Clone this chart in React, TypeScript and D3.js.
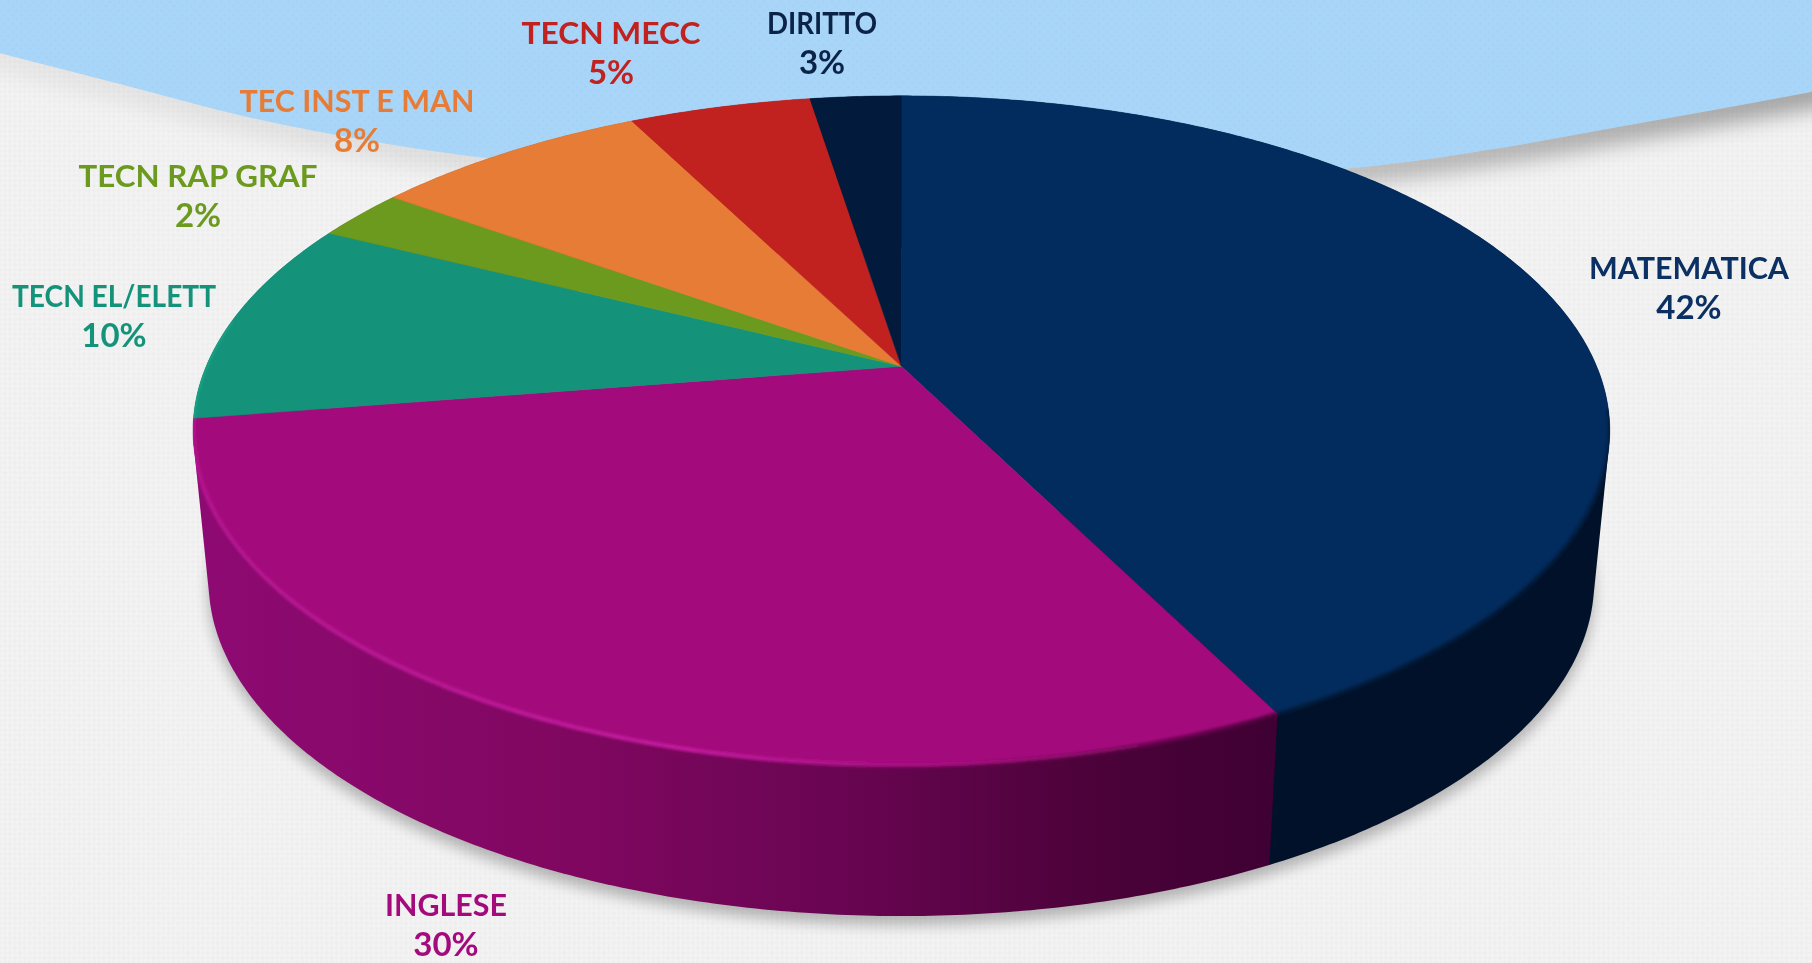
import React, { useMemo } from "react";
import * as d3 from "d3";

// ---- data
const subjects = ["MATEMATICA", "INGLESE", "TECN EL/ELETT", "TECN RAP GRAF", "TEC INST E MAN", "TECN MECC", "DIRITTO"];
const shares = [42.6, 29.9, 9.9, 2.5, 7.6, 5.0, 2.5];
const shareLabels = ["42%", "30%", "10%", "2%", "8%", "5%", "3%"];

// ---- styles and layout, kept apart from the data
const topColors = ["#032c5e", "#a30b7c", "#14937a", "#6c9a1f", "#e67c36", "#c1221f", "#021a3b"];
const labelColors = ["#0b3063", "#a30b7c", "#14937a", "#6c9a1f", "#e67c36", "#c1221f", "#0a2347"];
const sideColors = ["#001129", "url(#sideInglese)", "#0d6a58", "#4c6e16", "#a85a26", "#8a1816", "#010f22"];
const labelX = [1689, 446, 114, 198, 357, 611, 822];
const labelY = [269, 906, 297, 177, 102, 34, 24];
const labelW = [200, 122, 204, 239, 235, 179, 110];

const W = 1812;
const H = 963;
const cx = 901.4;
const apexY = 366.3;
const A = 695.2;
const B = 322.3;
const K = 0.1917;
const depthScale = 0.978;
const depth = 151;

// perspective view of a point on the pie's rim, theta clockwise from 12 o'clock
const rim = (t: number): [number, number] => {
  const u = Math.sin(t);
  const v = -Math.cos(t);
  const d = 1 - K * v;
  return [cx + (A * u) / d, apexY + (B * v) / d];
};
const base = (t: number): [number, number] => {
  const [x, y] = rim(t);
  return [cx + depthScale * (x - cx), y + depth];
};
const samples = (a: number, b: number) => {
  const n = Math.max(2, Math.ceil((b - a) / 0.01));
  return d3.range(n + 1).map((i) => a + ((b - a) * i) / n);
};

const line = d3.line<[number, number]>();
const waveEdge: [number, number][] = [
  [-20, 48], [120, 84], [243, 116], [370, 141], [485, 158], [700, 178], [900, 186],
  [1130, 182], [1364, 167], [1500, 148], [1618, 127], [1730, 107], [1832, 88],
];
const waveLine = d3.line<[number, number]>().curve(d3.curveCatmullRom);

export default function App() {
  const arcs = useMemo(() => d3.pie<number>().sort(null)(shares), []);
  const wave = waveLine(waveEdge) as string;
  const fullBase = line(samples(0, Math.PI * 2).map(base)) + "Z";
  const fullRim = line(samples(0, Math.PI * 2).map(rim)) + "Z";
  const sides = arcs
    .map((a, i) => {
      const ts = samples(a.startAngle, a.endAngle);
      const hull = d3.polygonHull([...ts.map(rim), ...ts.map(base)]) as [number, number][];
      return { i, d: line(hull) + "Z", front: rim((a.startAngle + a.endAngle) / 2)[1] };
    })
    .sort((p, q) => d3.ascending(p.front, q.front));

  return (
    <svg
      width={W}
      height={H}
      viewBox={`0 0 ${W} ${H}`}
      style={{ position: "fixed", left: 0, top: 0, display: "block" }}
    >
      <defs>
        <pattern id="weave" width="7" height="7" patternUnits="userSpaceOnUse" patternTransform="rotate(45)">
          <rect width="7" height="7" fill="#f3f3f3" />
          <rect width="3.5" height="3.5" fill="#eeeeee" />
          <rect x="3.5" y="3.5" width="3.5" height="3.5" fill="#efefef" />
        </pattern>
        <pattern id="weaveBlue" width="6" height="6" patternUnits="userSpaceOnUse" patternTransform="rotate(45)">
          <rect width="6" height="6" fill="#a9d6f8" />
          <rect width="3" height="3" fill="#a5d3f6" />
        </pattern>
        <linearGradient id="sideInglese" gradientUnits="userSpaceOnUse" x1="195" x2="1272" y1="0" y2="0">
          <stop offset="0" stopColor="#8e0a73" />
          <stop offset="0.35" stopColor="#800760" />
          <stop offset="0.6" stopColor="#690552" />
          <stop offset="0.85" stopColor="#4a0238" />
          <stop offset="1" stopColor="#3f0033" />
        </linearGradient>
        <linearGradient id="rimInglese" gradientUnits="userSpaceOnUse" x1="195" x2="1278" y1="0" y2="0">
          <stop offset="0" stopColor="#b5128f" />
          <stop offset="0.45" stopColor="#c61fa2" />
          <stop offset="0.7" stopColor="#a30b7c" />
          <stop offset="1" stopColor="#4c033a" />
        </linearGradient>
        <linearGradient id="waveShade" gradientUnits="userSpaceOnUse" x1="0" x2={W} y1="0" y2="0">
          <stop offset="0" stopColor="#000" stopOpacity="0.05" />
          <stop offset="0.5" stopColor="#000" stopOpacity="0.12" />
          <stop offset="1" stopColor="#000" stopOpacity="0.32" />
        </linearGradient>
        <filter id="blurWave" x="-5%" y="-50%" width="110%" height="200%">
          <feGaussianBlur stdDeviation="10" />
        </filter>
        <filter id="blurShadow" x="-5%" y="-5%" width="110%" height="110%">
          <feGaussianBlur stdDeviation="7" />
        </filter>
        <filter id="blurRim" x="-5%" y="-5%" width="110%" height="110%">
          <feGaussianBlur stdDeviation="1.6" />
        </filter>
        <clipPath id="belowWave">
          <path d={`${wave}L${W + 20},${H}L-20,${H}Z`} />
        </clipPath>
        <clipPath id="solid">
          <path d={fullRim} />
          {sides.map((s) => (
            <path key={s.i} d={s.d} />
          ))}
        </clipPath>
      </defs>

      <rect width={W} height={H} fill="url(#weave)" />
      <path d={`${wave}L${W + 20},-20L-20,-20Z`} fill="url(#weaveBlue)" />
      <g clipPath="url(#belowWave)">
        <path d={wave} fill="none" stroke="url(#waveShade)" strokeWidth={34} filter="url(#blurWave)" />
      </g>

      <path d={fullBase} transform="translate(0,9)" fill="#000" opacity={0.26} filter="url(#blurShadow)" />

      {sides.map((s) => (
        <path key={subjects[s.i]} d={s.d} fill={sideColors[s.i]} />
      ))}

      {arcs.map((a, i) => {
        const pts = samples(a.startAngle, a.endAngle).map(rim);
        return (
          <path
            key={subjects[i]}
            d={line([[cx, apexY], ...pts]) + "Z"}
            fill={topColors[i]}
            stroke={topColors[i]}
            strokeWidth={0.5}
          />
        );
      })}

      <g clipPath="url(#solid)">
        <path
          d={line(samples(arcs[0].startAngle + 1.7, arcs[0].endAngle).map(rim)) as string}
          fill="none"
          stroke="#021a3b"
          strokeWidth={4}
          filter="url(#blurRim)"
        />
        <path
          d={line(samples(arcs[1].startAngle, arcs[1].endAngle).map(rim)) as string}
          fill="none"
          stroke="url(#rimInglese)"
          strokeWidth={4}
          filter="url(#blurRim)"
        />
        <path
          d={line(samples(arcs[2].startAngle, arcs[2].startAngle + 0.3).map(rim)) as string}
          fill="none"
          stroke="#1ca58a"
          strokeWidth={3}
          filter="url(#blurRim)"
        />
      </g>

      {subjects.map((s, i) => (
        <g key={s} fontFamily="Lato, 'Open Sans', sans-serif" fontWeight={700} fontSize={30} fill={labelColors[i]} textAnchor="middle">
          <text x={labelX[i]} y={labelY[i] + 10} textLength={labelW[i]} lengthAdjust="spacingAndGlyphs">{s}</text>
          <text x={labelX[i]} y={labelY[i] + 50} fontSize={33}>{shareLabels[i]}</text>
        </g>
      ))}
    </svg>
  );
}
